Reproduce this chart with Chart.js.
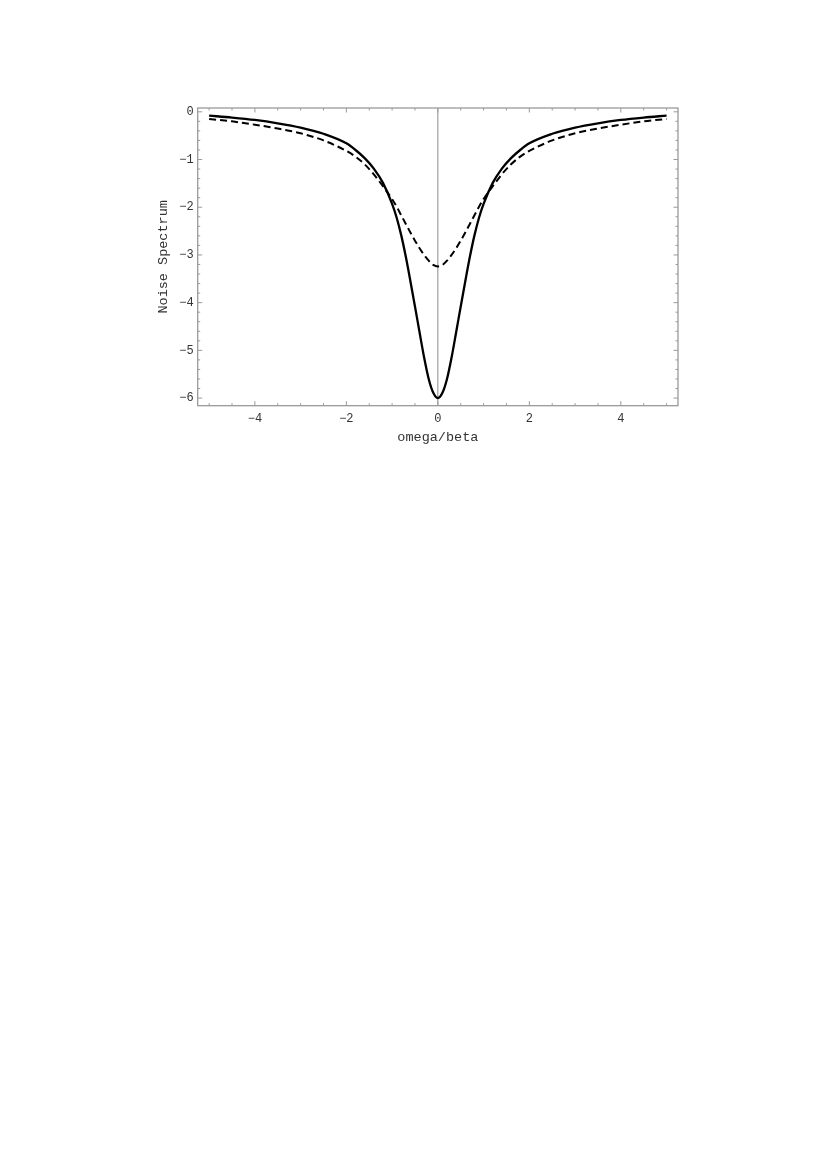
<!DOCTYPE html>
<html>
<head>
<meta charset="utf-8">
<title>Noise Spectrum</title>
<script src="https://cdn.jsdelivr.net/npm/chart.js@4.4.0/dist/chart.umd.min.js"></script>
<style>
  html, body { margin: 0; padding: 0; background: #fff; }
  #wrap { position: absolute; left: 0; top: 0; width: 830px; height: 470px; }
</style>
</head>
<body>
<div id="wrap"><canvas id="noiseChart" width="830" height="470"></canvas></div>
<script>
// omega/beta sample points
const omega = [-5, -4.5, -4, -3.5, -3, -2.5, -2, -1.8, -1.6, -1.4, -1.2, -1.0, -0.9, -0.8, -0.7, -0.6, -0.5, -0.4, -0.3, -0.2, -0.1,
  0, 0.1, 0.2, 0.3, 0.4, 0.5, 0.6, 0.7, 0.8, 0.9, 1.0, 1.2, 1.4, 1.6, 1.8, 2, 2.5, 3, 3.5, 4, 4.5, 5];

// solid curve (deep dip)
const solidSpectrum = [-0.08, -0.12, -0.17, -0.24, -0.33, -0.46, -0.66, -0.80, -0.97, -1.19, -1.49, -1.93, -2.22, -2.59, -3.04, -3.55, -4.08, -4.62, -5.15, -5.60, -5.89,
  -6.00, -5.89, -5.60, -5.15, -4.62, -4.08, -3.55, -3.04, -2.59, -2.22, -1.93, -1.49, -1.19, -0.97, -0.80, -0.66, -0.46, -0.33, -0.24, -0.17, -0.12, -0.08];

// dashed curve (shallow dip)
const dashedSpectrum = [-0.15, -0.20, -0.27, -0.35, -0.45, -0.60, -0.82, -0.94, -1.10, -1.31, -1.56, -1.83, -1.99, -2.17, -2.35, -2.53, -2.70, -2.86, -3.00, -3.12, -3.21,
  -3.24, -3.21, -3.12, -3.00, -2.86, -2.70, -2.53, -2.35, -2.17, -1.99, -1.83, -1.56, -1.31, -1.10, -0.94, -0.82, -0.60, -0.45, -0.35, -0.27, -0.20, -0.15];

const xMajorTicks = [-4, -2, 0, 2, 4];
const yMajorTicks = [0, -1, -2, -3, -4, -5, -6];

const FRAME_COLOR = "#9a9a9a";
const TEXT_COLOR = "#333";
const MONO = "'Liberation Mono', 'DejaVu Sans Mono', monospace";

// frame on all four sides with inward ticks, plus the vertical axis at x = 0
const framePlugin = {
  id: "frame",
  beforeDatasetsDraw(chart) {
    const { ctx, chartArea: a, scales } = chart;
    const xs = scales.x, ys = scales.y;
    ctx.save();

    const x0 = xs.getPixelForValue(0);
    ctx.strokeStyle = "#8c8c8c";
    ctx.lineWidth = 1;
    ctx.beginPath();
    ctx.moveTo(x0, a.top);
    ctx.lineTo(x0, a.bottom);
    ctx.stroke();

    ctx.strokeStyle = FRAME_COLOR;
    ctx.lineWidth = 1.3;
    ctx.strokeRect(a.left, a.top, a.right - a.left, a.bottom - a.top);

    ctx.lineWidth = 1;
    for (let i = -10; i <= 10; i++) {
      const v = i / 2;
      const len = xMajorTicks.includes(v) ? 4.5 : 2.5;
      const px = xs.getPixelForValue(v);
      ctx.beginPath();
      ctx.moveTo(px, a.bottom);
      ctx.lineTo(px, a.bottom - len);
      ctx.moveTo(px, a.top);
      ctx.lineTo(px, a.top + len);
      ctx.stroke();
    }
    for (let i = 0; i <= 30; i++) {
      const v = -i / 5;
      const len = i % 5 === 0 ? 4.5 : 2.5;
      const py = ys.getPixelForValue(v);
      ctx.beginPath();
      ctx.moveTo(a.left, py);
      ctx.lineTo(a.left + len, py);
      ctx.moveTo(a.right, py);
      ctx.lineTo(a.right - len, py);
      ctx.stroke();
    }
    ctx.restore();
  },
};

function minusLabel(v) {
  return String(v).replace("-", "\u2212");
}

new Chart(document.getElementById("noiseChart"), {
  type: "line",
  data: {
    datasets: [
      {
        label: "solid",
        data: omega.map((x, i) => ({ x, y: solidSpectrum[i] })),
        borderColor: "#000",
        borderWidth: 2.3,
        pointRadius: 0,
        cubicInterpolationMode: "monotone",
        fill: false,
      },
      {
        label: "dashed",
        data: omega.map((x, i) => ({ x, y: dashedSpectrum[i] })),
        borderColor: "#000",
        borderWidth: 2,
        borderDash: [7, 4],
        pointRadius: 0,
        cubicInterpolationMode: "monotone",
        fill: false,
      },
    ],
  },
  options: {
    responsive: false,
    animation: false,
    layout: { padding: { left: 155, top: 108, right: 152, bottom: 24.3 } },
    plugins: { legend: { display: false }, tooltip: { enabled: false } },
    scales: {
      x: {
        type: "linear",
        min: -5.25,
        max: 5.25,
        grid: { display: false, drawTicks: false },
        border: { display: false },
        afterBuildTicks: (s) => { s.ticks = xMajorTicks.map((v) => ({ value: v })); },
        afterFit: (s) => { s.height = 40; },
        ticks: {
          includeBounds: false,
          padding: 6,
          color: TEXT_COLOR,
          font: { family: MONO, size: 12 },
          maxRotation: 0,
          callback: (v) => minusLabel(v),
        },
        title: {
          display: true,
          text: "omega/beta",
          color: TEXT_COLOR,
          font: { family: MONO, size: 13.5 },
          padding: { top: 0, bottom: 0.6 },
        },
      },
      y: {
        type: "linear",
        min: -6.16,
        max: 0.08,
        grid: { display: false, drawTicks: false },
        border: { display: false },
        afterBuildTicks: (s) => { s.ticks = yMajorTicks.map((v) => ({ value: v })); },
        afterFit: (s) => { s.width = 42.7; },
        ticks: {
          includeBounds: false,
          padding: 4,
          color: TEXT_COLOR,
          font: { family: MONO, size: 12 },
          callback: (v) => minusLabel(v),
        },
        title: {
          display: true,
          text: "Noise Spectrum",
          color: TEXT_COLOR,
          font: { family: MONO, size: 13.5 },
          padding: { top: 0, bottom: 0 },
        },
      },
    },
  },
  plugins: [framePlugin],
});
</script>
</body>
</html>
